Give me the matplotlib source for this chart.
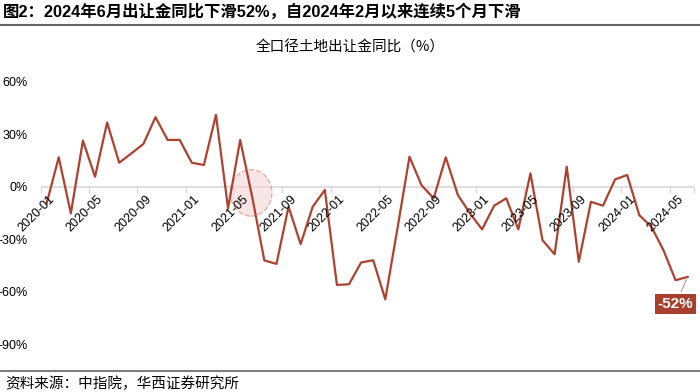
import matplotlib.pyplot as plt
from matplotlib.patches import Ellipse
from matplotlib.lines import Line2D

plt.rcParams['font.family'] = ['Liberation Sans', 'Noto Sans CJK SC', 'DejaVu Sans']

# monthly 2020-01 .. 2024-06
months = [f'{y}-{m:02d}' for y in range(2020, 2025) for m in range(1, 13)][:54]
yoy = [-9.5, 16.8, -15.2, 26.3, 5.7, 36.6, 13.7, 19.0, 24.4, 39.7, 26.7, 26.7,
       13.7, 12.4, 41.0, -12.3, 26.7, -6.0, -42.0, -44.0, -11.4, -32.7, -11.4, -1.8,
       -56.0, -55.6, -43.2, -41.9, -64.2, -24.0, 17.1, 0.8, -6.6, 16.8, -4.7, -15.2,
       -24.3, -10.8, -6.6, -24.3, 7.6, -30.5, -38.5, 11.4, -42.8, -8.6, -10.8, 4.2,
       6.7, -16.2, -22.8, -36.2, -53.3, -51.4]
yticks = [60, 30, 0, -30, -60, -90]

red = '#ad4230'
x = list(range(len(months)))

fig = plt.figure(figsize=(7, 3.92), dpi=100)
ax = fig.add_axes([0.058, 0.121, 0.933, 0.671])
ax.plot(x, yoy, color=red, lw=1.6, zorder=3)
ax.set_xlim(-0.5, 53.5)
ax.set_ylim(-90, 60)
ax.axhline(0, color='#d9d9d9', lw=1.2, zorder=1)
for s in ax.spines.values():
    s.set_visible(False)

ax.set_yticks(yticks)
ax.set_yticklabels([f'{v}%' for v in yticks], fontsize=9)
ax.tick_params(axis='y', length=0, pad=9)

# labels every 4 months, tick marks at category boundaries
lab_idx = list(range(0, len(months), 4))
ax.set_xticks([i - 0.5 for i in lab_idx] + [53.5])
ax.set_xticklabels([])
ax.tick_params(axis='x', length=4, color='#d9d9d9', width=1)
ax.spines['bottom'].set_position(('data', 0))
for i in lab_idx:
    ax.text(i + 0.15, -3.8, months[i], rotation=45, ha='right', va='top',
            rotation_mode='anchor', fontsize=9, zorder=4)

# highlight circle around 2021-06
ax.add_patch(Ellipse((16.9, -3.5), 3.45, 26.5, facecolor='#f4d4d4', alpha=0.6,
                     edgecolor='#d9837a', ls='--', lw=1, zorder=2))

# last-value label
ax.annotate('-52%', xy=(53, yoy[-1]), xytext=(52.0, -67.0),
            ha='center', va='center', fontsize=11, fontweight='bold', color='white',
            bbox=dict(boxstyle='square,pad=0.2', fc='#a9402f', ec='none'),
            arrowprops=dict(arrowstyle='-', color='#a0a0a0', lw=0.8), zorder=5)

fig.text(0.004, 0.972, '图2：2024年6月出让金同比下滑52%，自2024年2月以来连续5个月下滑',
         fontsize=11.8, fontweight='bold', va='center', ha='left')
fig.add_artist(Line2D([0, 1], [0.937, 0.937], color='#666666', lw=1.5))
fig.text(0.5, 0.88, '全口径土地出让金同比（%）', fontsize=10.5, ha='center', va='center',
         family=['Noto Sans CJK SC'])
fig.add_artist(Line2D([0, 1], [0.053, 0.053], color='#808080', lw=1.5))
fig.text(0.007, 0.022, '资料来源：中指院，华西证券研究所', fontsize=10.5, ha='left', va='center',
         family=['Noto Sans CJK SC'])

fig.savefig('out.png', dpi=100)
